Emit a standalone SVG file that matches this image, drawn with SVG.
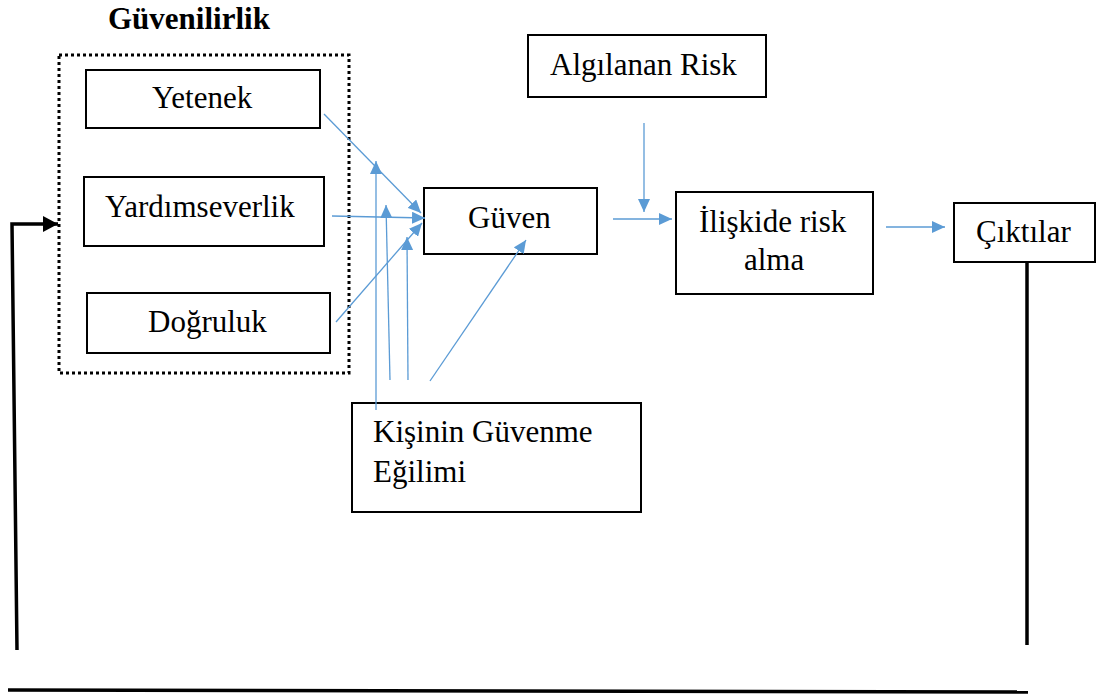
<svg xmlns="http://www.w3.org/2000/svg" width="1098" height="698" viewBox="0 0 1098 698">
<defs>
<marker id="ab" markerUnits="userSpaceOnUse" markerWidth="14" markerHeight="12" refX="13" refY="6" orient="auto"><path d="M0,0 L13,6 L0,12 Z" fill="#5B9BD5"/></marker>
<marker id="ak" markerUnits="userSpaceOnUse" markerWidth="16" markerHeight="16" refX="15" refY="8" orient="auto"><path d="M0,0 L15,8 L0,16 Z" fill="#000"/></marker>
<style>
.box{fill:#fff;stroke:#000;stroke-width:2}
.t{font-family:'Liberation Serif','Times New Roman','DejaVu Serif',serif;font-size:31px;fill:#000}
.b{stroke:#5B9BD5;stroke-width:1.3;fill:none;marker-end:url(#ab)}
.k{stroke:#000;stroke-width:3.5;fill:none}
</style>
</defs>
<rect width="1098" height="698" fill="#fff"/>
<g id="guvenilirlik">
<rect x="59" y="55" width="290" height="318" fill="none" stroke="#000" stroke-width="3" stroke-dasharray="3,3"/>
<text class="t" x="108" y="29" font-weight="bold">Güvenilirlik</text>
</g>
<g id="yetenek"><rect class="box" x="86" y="70" width="234" height="58"/><text class="t" x="152" y="108">Yetenek</text></g>
<g id="yardimseverlik"><rect class="box" x="84" y="177" width="240" height="69"/><text class="t" x="105" y="217">Yardımseverlik</text></g>
<g id="dogruluk"><rect class="box" x="87" y="293" width="243" height="60"/><text class="t" x="148" y="332">Doğruluk</text></g>
<g id="guven"><rect class="box" x="424" y="188" width="173" height="66"/><text class="t" x="468" y="228">Güven</text></g>
<g id="algilanan"><rect class="box" x="528" y="35" width="238" height="62"/><text class="t" x="550" y="75">Algılanan Risk</text></g>
<g id="iliskide"><rect class="box" x="676" y="192" width="197" height="102"/><text class="t" x="699" y="232">İlişkide risk</text><text class="t" x="744" y="270">alma</text></g>
<g id="ciktilar"><rect class="box" x="954" y="203" width="141" height="59"/><text class="t" x="976" y="242">Çıktılar</text></g>
<g id="kisinin"><rect class="box" x="352" y="403" width="289" height="109"/><text class="t" x="373" y="442">Kişinin Güvenme</text><text class="t" x="373" y="482">Eğilimi</text></g>
<g id="connectors">
<line class="b" x1="324" y1="114" x2="421" y2="213"/>
<line class="b" x1="332" y1="216" x2="425" y2="218"/>
<line class="b" x1="336" y1="322" x2="422" y2="223"/>
<line class="b" x1="376" y1="410" x2="376" y2="161"/>
<line class="b" x1="390" y1="380" x2="386" y2="205"/>
<line class="b" x1="408" y1="380" x2="407" y2="237"/>
<line class="b" x1="430" y1="381" x2="526" y2="240"/>
<line class="b" x1="644" y1="123" x2="644" y2="212"/>
<line class="b" x1="613" y1="219" x2="672" y2="219"/>
<line class="b" x1="886" y1="227" x2="945" y2="227"/>
<line class="k" x1="1027" y1="262" x2="1027" y2="645"/>
<line class="k" x1="8" y1="690" x2="1028" y2="692"/>
<polyline class="k" points="17,650 12,224 58,224" marker-end="url(#ak)"/>
</g>
</svg>
